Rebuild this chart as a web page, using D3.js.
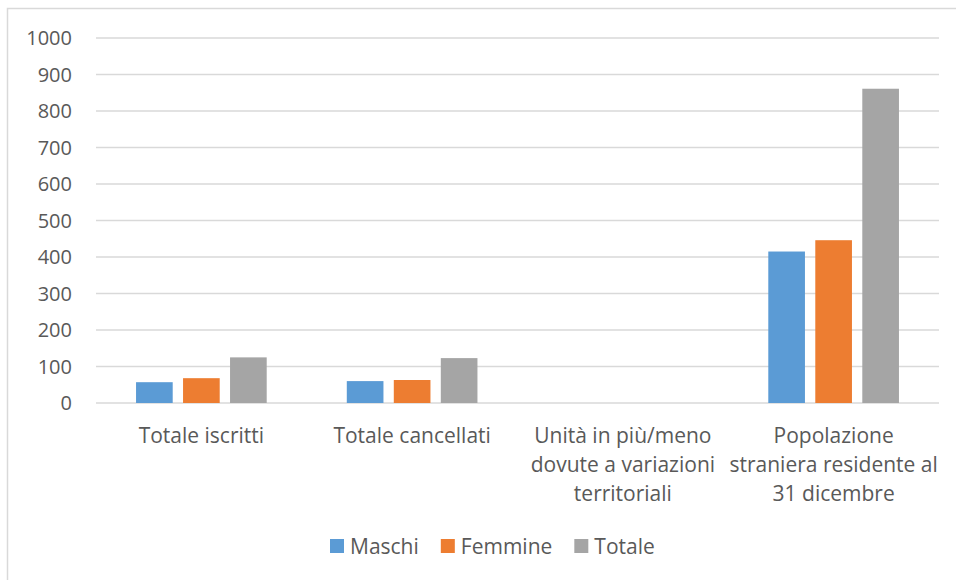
<!doctype html>
<html>
<head>
    <meta charset="utf-8">
    <script src="https://d3js.org/d3.v7.min.js"></script>
    <style>
        html, body { margin: 0; padding: 0; background: #fff; }
        svg text {
            fill: #595959;
            font-family: "Open Sans", Lato, sans-serif;
            font-size: 21px;
        }
        svg text.tick { font-size: 20px; }
    </style>
</head>
<body>
<script>
    // categories, wrapped the way the original labels are wrapped
    let categories = ["Totale iscritti", "Totale cancellati",
                      "Unità in più/meno dovute a variazioni territoriali",
                      "Popolazione straniera residente al 31 dicembre"];
    let categoryLines = [["Totale iscritti"],
                         ["Totale cancellati"],
                         ["Unità in più/meno", "dovute a variazioni", "territoriali"],
                         ["Popolazione", "straniera residente al", "31 dicembre"]];
    let series = ["Maschi", "Femmine", "Totale"];
    let maschi = [57, 60, 0, 415];
    let femmine = [68, 63, 0, 446];
    let totale = [125, 123, 0, 861];
    let yTicks = [0, 100, 200, 300, 400, 500, 600, 700, 800, 900, 1000];

    let colors = ["#5B9BD5", "#ED7D31", "#A5A5A5"];
    let values = [maschi, femmine, totale];

    let width = 956, height = 580;
    let plotLeft = 96, plotRight = 939, plotTop = 38, plotBottom = 403;

    let svg = d3.select("body").append("svg")
                .attr("width", width)
                .attr("height", height);

    // chart area border (only top and left edges are visible in the picture)
    svg.append("rect")
       .attr("x", 7.5).attr("y", 8.5)
       .attr("width", 1000).attr("height", 1000)
       .attr("fill", "none")
       .attr("stroke", "#D9D9D9")
       .attr("stroke-width", 1.5);

    let x0 = d3.scaleBand().domain(categories).range([plotLeft, plotRight]);
    let bw = x0.bandwidth();
    let x1 = d3.scaleBand().domain(series)
               .range([bw * 0.19, bw * 0.81])
               .paddingInner(0.22);
    let y = d3.scaleLinear().domain([0, 1000]).range([plotBottom, plotTop]);

    // gridlines
    svg.append("g").selectAll("line")
       .data(yTicks)
       .enter().append("line")
       .attr("x1", plotLeft).attr("x2", plotRight)
       .attr("y1", d => y(d)).attr("y2", d => y(d))
       .attr("stroke", "#D9D9D9")
       .attr("stroke-width", 1.5);

    // y tick labels
    svg.append("g").selectAll("text")
       .data(yTicks)
       .enter().append("text")
       .attr("class", "tick")
       .attr("x", 72)
       .attr("y", d => y(d))
       .attr("dy", "0.35em")
       .attr("text-anchor", "end")
       .text(d => d);

    // bars
    let groups = svg.append("g").selectAll("g")
                    .data(categories)
                    .enter().append("g")
                    .attr("transform", d => "translate(" + x0(d) + ",0)");

    groups.selectAll("rect")
          .data((d, i) => series.map((s, j) => ({ s: s, v: values[j][i], c: colors[j] })))
          .enter().append("rect")
          .attr("x", d => x1(d.s))
          .attr("width", x1.bandwidth())
          .attr("y", d => y(d.v))
          .attr("height", d => y(0) - y(d.v))
          .attr("fill", d => d.c);

    // category labels
    let labels = svg.append("g").selectAll("text")
                    .data(categories)
                    .enter().append("text")
                    .attr("text-anchor", "middle")
                    .attr("transform", d => "translate(" + (x0(d) + bw / 2) + ",443)");
    labels.selectAll("tspan")
          .data((d, i) => categoryLines[i])
          .enter().append("tspan")
          .attr("x", 0)
          .attr("y", (d, i) => i * 29)
          .text(d => d);

    // legend
    let legend = svg.append("g");
    let lx = 330;
    series.forEach((s, i) => {
        legend.append("rect")
              .attr("x", lx).attr("y", 539)
              .attr("width", 14).attr("height", 14)
              .attr("fill", colors[i]);
        let t = legend.append("text")
                      .attr("x", lx + 20).attr("y", 554)
                      .text(s);
        lx += 20 + t.node().getComputedTextLength() + 22;
    });
</script>
</body>
</html>
